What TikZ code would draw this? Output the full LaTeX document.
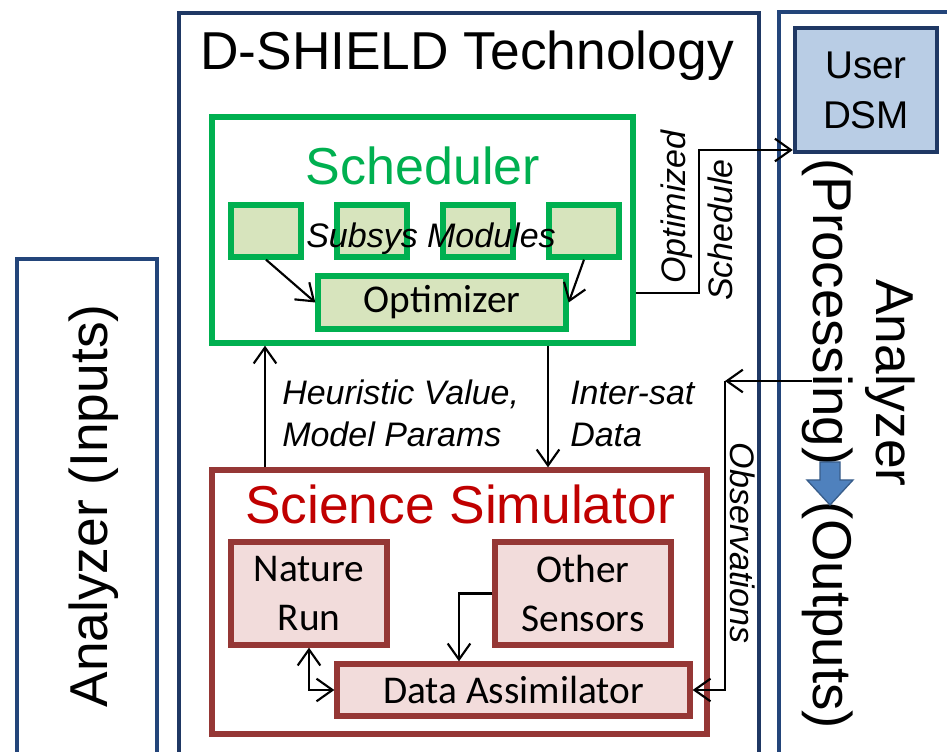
\documentclass[tikz,border=0pt]{standalone}
\usepackage{fontspec}
\setmainfont{Liberation Sans}
\newfontfamily\calib{Carlito}
\usetikzlibrary{arrows.meta}
\newcommand\pxu{0.75pt}
\definecolor{navy}{HTML}{23457A}
\definecolor{navydark}{HTML}{1F3864}
\definecolor{grn}{HTML}{00B050}
\definecolor{modfill}{HTML}{D7E4BD}
\definecolor{redline}{HTML}{953735}
\definecolor{redtitle}{HTML}{C00000}
\definecolor{pinkfill}{HTML}{F2DCDB}
\definecolor{dsmfill}{HTML}{B9CDE5}
\definecolor{arrfill}{HTML}{4F81BD}
\definecolor{arrdraw}{HTML}{385D8A}
\begin{document}
\begin{tikzpicture}[x=0.75pt,y=-0.75pt,
  bx/.style={draw, rectangle, inner sep=0pt},
  outerbox/.style={bx, draw=navy, line width=3.4pt},
  schedbox/.style={bx, draw=grn, line width=4pt},
  modbox/.style={bx, draw=grn, fill=modfill, line width=4pt, minimum width=70*\pxu, minimum height=52*\pxu},
  simbox/.style={bx, draw=redline, line width=4pt},
  subbox/.style={bx, draw=redline, fill=pinkfill, line width=4pt},
  bigtxt/.style={font=\fontsize{40}{48}\selectfont},
  lbl/.style={font=\fontsize{25.5}{30}\selectfont\itshape, inner sep=0pt},
  cal/.style={font=\calib\fontsize{29.5}{37}\selectfont, align=center},
  conn/.style={line width=1.6pt, -{Straight Barb[length=12pt,width=17pt]}},
  conntwo/.style={line width=1.6pt, {Straight Barb[length=12pt,width=17pt]}-{Straight Barb[length=12pt,width=17pt]}}
]
\useasboundingbox (0,0) rectangle (947,752);
\clip (0,0) rectangle (947,752);

% outer columns
\node[outerbox, minimum width=140*\pxu, minimum height=511*\pxu] (leftbox) at (87,514.5) {};
\node[outerbox, draw=navydark, minimum width=580*\pxu, minimum height=757*\pxu] (midbox) at (469,391.5) {};
\node[outerbox, minimum width=181*\pxu, minimum height=758*\pxu] (rightbox) at (869.5,391) {};

\node[bigtxt, rotate=90, inner sep=0pt] (anin) at (94,506) {Analyzer (Inputs)};
\node[bigtxt, anchor=base, inner sep=0pt] (title) at (467,70) {D-SHIELD Technology};

% user DSM
\node[bx, draw=navydark, fill=dsmfill, line width=3.4pt, minimum width=142*\pxu, minimum height=124*\pxu,
      font=\fontsize{29}{37.5}\selectfont, align=center] (dsm) at (866,90) {User\\DSM};

% right column text
\node[bigtxt, rotate=-90, inner sep=0pt] (anout) at (890,383) {Analyzer};
\node[font=\fontsize{41}{48}\selectfont, rotate=-90, inner sep=0pt] (proc) at (828,312) {(Processing)};
\node[font=\fontsize{41}{48}\selectfont, rotate=-90, inner sep=0pt] (outs) at (828,615) {(Outputs)};
\draw[fill=arrfill, draw=arrdraw, line width=1pt]
  (820,462) -- (840,462) -- (840,480) -- (853,480) -- (830,505) -- (807,480) -- (820,480) -- cycle;

% scheduler
\node[schedbox, minimum width=421*\pxu, minimum height=226*\pxu] (sched) at (422.5,230) {};
\node[font=\fontsize{39}{46}\selectfont, text=grn, anchor=base, inner sep=0pt] (schedt) at (423,185) {Scheduler};
\node[modbox] (m1) at (266,231) {};
\node[modbox] (m2) at (372,231) {};
\node[modbox] (m3) at (478,231) {};
\node[modbox] (m4) at (584,231) {};
\node[lbl, anchor=base] (subsys) at (431,248) {Subsys Modules};
\node[bx, draw=grn, fill=modfill, line width=4pt, minimum width=248*\pxu, minimum height=53*\pxu, cal] (opt) at (442,302.5) {Optimizer};
\draw[conn] (m1.south) -- (opt.west);
\draw[conn] (m4.south) -- (opt.east);

% optimized schedule
\coordinate (osy) at (0,293);
\coordinate (osx) at (699,0);
\coordinate (dsmy) at (0,150);
\draw[conn] (sched.east |- osy) -- (osx |- osy) -- (osx |- dsmy) -- (dsm.west |- dsmy);
\node[lbl, rotate=90] (optl) at (676.5,207) {Optimized};
\node[lbl, rotate=90] (schl) at (720,230) {Schedule};

% science simulator
\node[simbox, minimum width=495*\pxu, minimum height=264*\pxu] (sim) at (459.5,602) {};
\node[bigtxt, text=redtitle, anchor=base, inner sep=0pt] (simt) at (460,523) {Science Simulator};
\node[subbox, minimum width=156*\pxu, minimum height=103*\pxu, cal] (nr) at (309,593.5) {Nature\\Run};
\node[subbox, minimum width=176*\pxu, minimum height=103*\pxu, cal] (os) at (583,593.5) {Other\\Sensors};
\node[subbox, minimum width=353*\pxu, minimum height=52*\pxu, cal] (da) at (513.5,690) {Data Assimilator};
\coordinate (ox) at (459,0);
\draw[conn] (os.west) -| (da.north -| ox);
\draw[conntwo] (nr.south) |- (da.west);

% links between scheduler and simulator
\coordinate (hx) at (265,0);
\coordinate (ix) at (548,0);
\draw[conn] (sim.north -| hx) -- (sched.south -| hx);
\draw[conn] (sched.south -| ix) -- (sim.north -| ix);
\node[lbl, anchor=base west] (h1) at (282,405) {Heuristic Value,};
\node[lbl, anchor=base west] (h2) at (282,447) {Model Params};
\node[lbl, anchor=base west] (i1) at (570,405) {Inter-sat};
\node[lbl, anchor=base west] (i2) at (570,447) {Data};

% observations
\coordinate (obsin) at (812,381);
\coordinate (obsc) at (725,381);
\draw[conn] (obsin) -- (obsc);
\draw[conn] (obsc) |- (da.east);
\node[lbl, rotate=-90] (obsl) at (742.5,543) {Observations};
\end{tikzpicture}
\end{document}
